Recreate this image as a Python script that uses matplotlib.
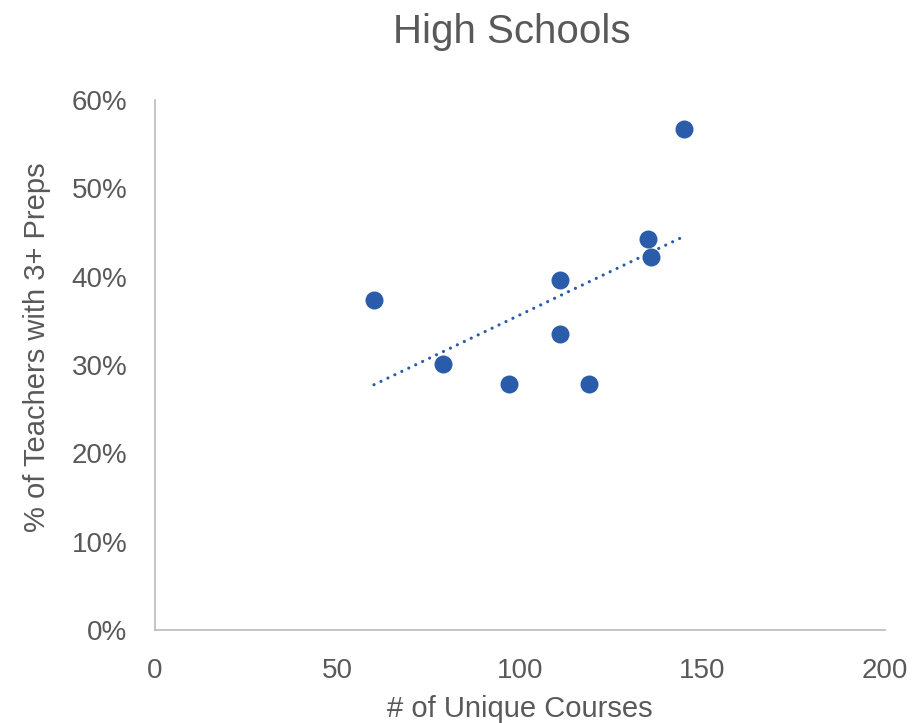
import numpy as np
import matplotlib
matplotlib.use('Agg')
import matplotlib.pyplot as plt
from matplotlib.ticker import PercentFormatter

plt.rcParams['font.family'] = ['Liberation Sans', 'DejaVu Sans']

# unique courses vs share of teachers with 3+ preps, one point per school
courses = [60, 79, 97, 111, 111, 119, 135, 136, 145]
pct_3preps = [37.4, 30.1, 27.9, 39.6, 33.5, 27.8, 44.3, 42.2, 56.7]

blue = '#2A5CAA'
grey = '#595959'

fig = plt.figure(figsize=(9.14, 7.23), dpi=100)
ax = fig.add_axes([0.1696, 0.1286, 0.7987, 0.7331])

ax.scatter(courses, pct_3preps, s=168, color=blue, zorder=3, linewidths=0)

# linear trendline over the range of the data
k, b = np.polyfit(courses, pct_3preps, 1)
xs = np.array([min(courses), max(courses)])
ax.plot(xs, k * xs + b, color=blue, lw=2.3, linestyle=(0, (0.01, 2.4)),
        dash_capstyle='round', zorder=2)

ax.set_xlim(0, 200)
ax.set_ylim(0, 60)
ax.set_xticks([0, 50, 100, 150, 200])
ax.set_yticks(range(0, 61, 10))
ax.yaxis.set_major_formatter(PercentFormatter(decimals=0))
ax.tick_params(length=0, labelsize=20, labelcolor=grey, pad=20)

for s in ['top', 'right']:
    ax.spines[s].set_visible(False)
for s in ['left', 'bottom']:
    ax.spines[s].set_color('#BFBFBF')
    ax.spines[s].set_linewidth(1.3)

ax.set_title('High Schools', fontsize=29, color=grey, pad=41, x=0.489)
ax.set_xlabel('# of Unique Courses', fontsize=21, color=grey, labelpad=8)
ax.set_ylabel('% of Teachers with 3+ Preps', fontsize=21, color=grey)
ax.yaxis.set_label_coords(-0.1425, 0.533)

fig.savefig('out.png')
